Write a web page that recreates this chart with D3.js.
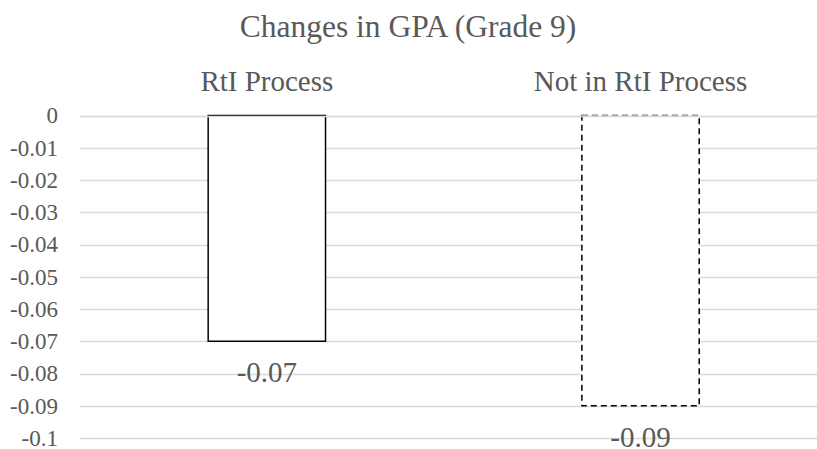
<!DOCTYPE html>
<html>
<head>
<meta charset="utf-8">
<script src="https://cdn.jsdelivr.net/npm/d3@7"></script>
<style>
  body { margin: 0; background: #fff; }
  text { font-family: "Liberation Serif", "Times New Roman", serif; fill: #595959; }
</style>
</head>
<body>
<svg id="chart" width="817" height="449"></svg>
<script>
const categories = ['RtI Process', 'Not in RtI Process'];
const values = [-0.07, -0.09];
const dashed = [false, true];
const yTicks = [0, -0.01, -0.02, -0.03, -0.04, -0.05, -0.06, -0.07, -0.08, -0.09, -0.1];

const svg = d3.select('#chart');
const width = 817;

const x = d3.scaleBand().domain(categories).range([80, 827.4]);
const y = d3.scaleLinear().domain([0, -0.1]).range([115.5, 438]);
const barW = x.bandwidth() * 0.314;

// title
svg.append('text')
  .attr('x', 408)
  .attr('y', 37)
  .attr('text-anchor', 'middle')
  .attr('font-size', '31.5px')
  .text('Changes in GPA (Grade 9)');

// grid lines
svg.append('g')
  .selectAll('line')
  .data(yTicks)
  .enter().append('line')
    .attr('x1', 80)
    .attr('x2', width)
    .attr('y1', d => Math.round(y(d)) + 0.5)
    .attr('y2', d => Math.round(y(d)) + 0.5)
    .attr('stroke', '#d9d9d9')
    .attr('stroke-width', 1.3);

// y axis labels (plain hyphen, like the original)
const yAxis = svg.append('g')
  .attr('transform', 'translate(72,0)')
  .call(d3.axisLeft(y).tickValues(yTicks).tickSize(0).tickPadding(14)
    .tickFormat(d => String(+d.toFixed(2))));
yAxis.select('.domain').remove();
yAxis.selectAll('text')
  .attr('font-family', '"Liberation Serif", serif')
  .attr('font-size', '23px')
  .attr('fill', '#595959');

// category labels on top
svg.append('g')
  .selectAll('text')
  .data(categories)
  .enter().append('text')
    .attr('x', d => x(d) + x.bandwidth() / 2)
    .attr('y', 91)
    .attr('text-anchor', 'middle')
    .attr('font-size', '29px')
    .text(d => d);

const bars = categories.map((c, i) => ({ c, v: values[i], dashed: dashed[i] }));

// bars
svg.append('g')
  .selectAll('rect')
  .data(bars)
  .enter().append('rect')
    .attr('x', d => x(d.c) + x.bandwidth() / 2 - barW / 2)
    .attr('y', y(0))
    .attr('width', barW)
    .attr('height', d => y(d.v) - y(0))
    .attr('fill', '#fff')
    .attr('stroke', '#000')
    .attr('stroke-width', 1.5)
    .attr('stroke-dasharray', d => d.dashed ? '6,4' : null);

// zero line sits over the bar tops
svg.append('line')
  .attr('x1', 80)
  .attr('x2', width)
  .attr('y1', Math.round(y(0)) + 0.5)
  .attr('y2', Math.round(y(0)) + 0.5)
  .attr('stroke', '#d9d9d9')
  .attr('stroke-width', 1.5);

svg.append('g')
  .selectAll('line')
  .data(bars.filter(d => d.dashed))
  .enter().append('line')
    .attr('x1', d => x(d.c) + x.bandwidth() / 2 - barW / 2)
    .attr('x2', d => x(d.c) + x.bandwidth() / 2 + barW / 2)
    .attr('y1', y(0))
    .attr('y2', y(0))
    .attr('stroke', '#b0b0b0')
    .attr('stroke-width', 1.5)
    .attr('stroke-dasharray', '6,4');

// value labels
svg.append('g')
  .selectAll('text')
  .data(bars)
  .enter().append('text')
    .attr('x', d => x(d.c) + x.bandwidth() / 2)
    .attr('y', d => y(d.v) + 41)
    .attr('text-anchor', 'middle')
    .attr('font-size', '29px')
    .text(d => String(d.v));
</script>
</body>
</html>
